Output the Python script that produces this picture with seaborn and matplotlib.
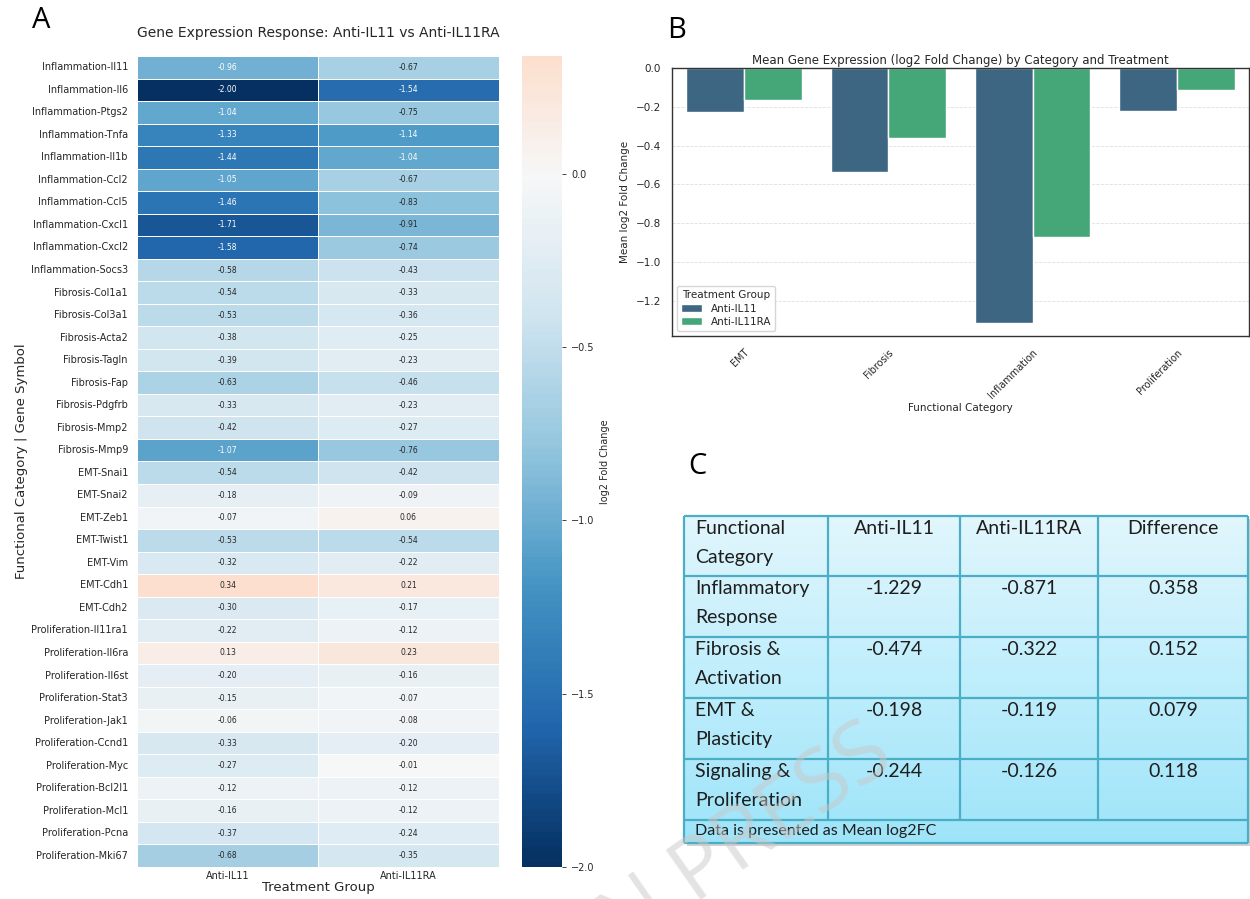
import numpy as np
import pandas as pd
import matplotlib
matplotlib.use('Agg')
import matplotlib.pyplot as plt
from matplotlib.colors import LinearSegmentedColormap
from matplotlib.patches import Rectangle
import seaborn as sns

# Panel A / B data: log2 fold change per gene
inflammation_genes = ['Il11', 'Il6', 'Ptgs2', 'Tnfa', 'Il1b', 'Ccl2', 'Ccl5', 'Cxcl1', 'Cxcl2', 'Socs3']
fibrosis_genes = ['Col1a1', 'Col3a1', 'Acta2', 'Tagln', 'Fap', 'Pdgfrb', 'Mmp2', 'Mmp9']
emt_genes = ['Snai1', 'Snai2', 'Zeb1', 'Twist1', 'Vim', 'Cdh1', 'Cdh2']
proliferation_genes = ['Il11ra1', 'Il6ra', 'Il6st', 'Stat3', 'Jak1', 'Ccnd1', 'Myc', 'Bcl2l1', 'Mcl1', 'Pcna', 'Mki67']

anti_il11 = [-0.96, -2.00, -1.04, -1.33, -1.44, -1.05, -1.46, -1.71, -1.58, -0.58,
             -0.54, -0.53, -0.38, -0.39, -0.63, -0.33, -0.42, -1.07,
             -0.54, -0.18, -0.07, -0.53, -0.32, 0.34, -0.30,
             -0.22, 0.13, -0.20, -0.15, -0.06, -0.33, -0.27, -0.12, -0.16, -0.37, -0.68]
anti_il11ra = [-0.67, -1.54, -0.75, -1.14, -1.04, -0.67, -0.83, -0.91, -0.74, -0.43,
               -0.33, -0.36, -0.25, -0.23, -0.46, -0.23, -0.27, -0.76,
               -0.42, -0.09, 0.06, -0.54, -0.22, 0.21, -0.17,
               -0.12, 0.23, -0.16, -0.07, -0.08, -0.20, -0.01, -0.12, -0.12, -0.24, -0.35]

treatments = ['Anti-IL11', 'Anti-IL11RA']
bar_order = ['EMT', 'Fibrosis', 'Inflammation', 'Proliferation']

# Panel C table
table_header = ['Functional\nCategory', 'Anti-IL11', 'Anti-IL11RA', 'Difference']
table_categories = ['Inflammatory\nResponse', 'Fibrosis &\nActivation', 'EMT &\nPlasticity', 'Signaling &\nProliferation']
table_il11 = [-1.229, -0.474, -0.198, -0.244]
table_il11ra = [-0.871, -0.322, -0.119, -0.126]
table_diff = [0.358, 0.152, 0.079, 0.118]
table_note = 'Data is presented as Mean log2FC'

# build frames
groups = [('Inflammation', inflammation_genes), ('Fibrosis', fibrosis_genes),
          ('EMT', emt_genes), ('Proliferation', proliferation_genes)]
row_cat = [c for c, g in groups for _ in g]
row_gene = [x for c, g in groups for x in g]
row_labels = [f"{c}-{g}" for c, g in zip(row_cat, row_gene)]

heat_df = pd.DataFrame({treatments[0]: anti_il11, treatments[1]: anti_il11ra}, index=row_labels)
long_df = pd.DataFrame({'Category': row_cat * 2,
                        'Treatment': [treatments[0]] * len(row_cat) + [treatments[1]] * len(row_cat),
                        'Value': anti_il11 + anti_il11ra})

sns.set_theme(style="white")
plt.rcParams['font.family'] = ['DejaVu Sans']

W, H = 1250, 899
fig = plt.figure(figsize=(12.5, 8.99), dpi=100)

def box(x0, y0, x1, y1):
    return [x0 / W, 1 - y1 / H, (x1 - x0) / W, (y1 - y0) / H]

# ---- Panel A: heatmap
ax_a = fig.add_axes(box(137, 56, 499, 867))
cax = fig.add_axes(box(522, 56, 562, 867))
sns.heatmap(heat_df, ax=ax_a, cbar_ax=cax, cmap='RdBu_r', center=0,
            annot=True, fmt='.2f', annot_kws={'size': 5.5},
            linewidths=0.5, linecolor='white',
            cbar_kws={'label': 'log2 Fold Change'})
ax_a.set_title('Gene Expression Response: Anti-IL11 vs Anti-IL11RA', fontsize=10, pad=14)
ax_a.set_xlabel('Treatment Group', fontsize=9.5, labelpad=0)
ax_a.set_ylabel('Functional Category | Gene Symbol', fontsize=9.5, labelpad=2)
ax_a.tick_params(axis='y', labelsize=7, length=0, pad=6.5)
ax_a.tick_params(axis='x', labelsize=7, length=0, pad=3)
cax.tick_params(labelsize=7, length=3, width=0.6, right=True)
cax.yaxis.label.set_size(7)

# ---- Panel B: grouped bars of category means
ax_b = fig.add_axes(box(672, 68, 1249, 336))
sns.barplot(data=long_df, x='Category', y='Value', hue='Treatment', order=bar_order,
            hue_order=treatments, palette='viridis', errorbar=None, ax=ax_b)
ax_b.set_axisbelow(True)
ax_b.yaxis.grid(True, linestyle='--', alpha=0.6, linewidth=0.6)
ax_b.set_title('Mean Gene Expression (log2 Fold Change) by Category and Treatment', fontsize=8.5, pad=3)
ax_b.set_xlabel('Functional Category', fontsize=7.5, labelpad=2)
ax_b.set_ylabel('Mean log2 Fold Change', fontsize=7.5)
ax_b.tick_params(axis='y', labelsize=7.5, pad=2)
ax_b.tick_params(axis='x', labelsize=7, pad=2)
plt.setp(ax_b.get_xticklabels(), rotation=45, ha='right', rotation_mode='anchor')
for s in ax_b.spines.values():
    s.set_color('#333333')
    s.set_linewidth(1.0)
leg = ax_b.legend(title='Treatment Group', loc='lower left', fontsize=7.5, title_fontsize=7.5,
                  borderpad=0.4, labelspacing=0.3)

# ---- Panel C: summary table
ax_t = fig.add_axes(box(684, 516, 1248, 843))
tw, th = 564, 327
col_w = [144, 132, 138, 150]
row_h = [60, 61, 61, 61, 61, 23]
ax_t.set_xlim(0, tw)
ax_t.set_ylim(th, 0)
ax_t.axis('off')
grad = LinearSegmentedColormap.from_list('tbl', ['#e2f6fd', '#bfeefc', '#9ee4f9'])
ax_t.imshow(np.linspace(0, 1, 256).reshape(-1, 1), cmap=grad, aspect='auto',
            extent=[0, tw, th, 0], zorder=1)
ax_t.add_patch(Rectangle((3, 3), tw, th, facecolor='#9a9a9a', alpha=0.45,
                         edgecolor='none', zorder=0, clip_on=False))
border = '#4aaec6'
xs = np.concatenate([[0], np.cumsum(col_w)])
ys = np.concatenate([[0], np.cumsum(row_h)])
ax_t.hlines(ys, 0, tw, colors=border, linewidth=1.6, zorder=2, clip_on=False)
ax_t.vlines([0, tw], 0, th, colors=border, linewidth=1.6, zorder=2, clip_on=False)
ax_t.vlines(xs[1:-1], 0, ys[-2], colors=border, linewidth=1.6, zorder=2)

tfont = dict(family=['Lato', 'DejaVu Sans'], color='#1e1e1e', fontsize=14, zorder=3)
rows = [table_header] + [[c, f"{a:.3f}", f"{b:.3f}", f"{d:.3f}"]
                         for c, a, b, d in zip(table_categories, table_il11, table_il11ra, table_diff)]
for r, cells in enumerate(rows):
    top = ys[r] + 4
    for c, txt in enumerate(cells):
        if c == 0:
            ax_t.text(xs[c] + 11, top, txt, ha='left', va='top', linespacing=1.85, **tfont)
        else:
            ax_t.text((xs[c] + xs[c + 1]) / 2, top, txt, ha='center', va='top', linespacing=1.85, **tfont)
ax_t.text(11, (ys[-2] + ys[-1]) / 2, table_note, ha='left', va='center',
          family=['Lato', 'DejaVu Sans'], color='#1e1e1e', fontsize=11.5, zorder=3)

# panel letters
for lbl, (px, py) in {'A': (32, 20), 'B': (667, 31), 'C': (688, 466)}.items():
    fig.text(px / W, 1 - py / H, lbl, fontsize=21, family=['Open Sans', 'DejaVu Sans'],
             color='black', ha='left', va='center')

# faint journal watermark, running off the bottom edge
fig.text(897 / W, 1 - 763 / H, 'IN PRESS', rotation=35, rotation_mode='anchor',
         fontsize=62, color='#c8c8c8', alpha=0.5, family=['Open Sans', 'DejaVu Sans'],
         ha='right', va='baseline', zorder=20)

fig.savefig('out.png', dpi=100)
plt.close(fig)
